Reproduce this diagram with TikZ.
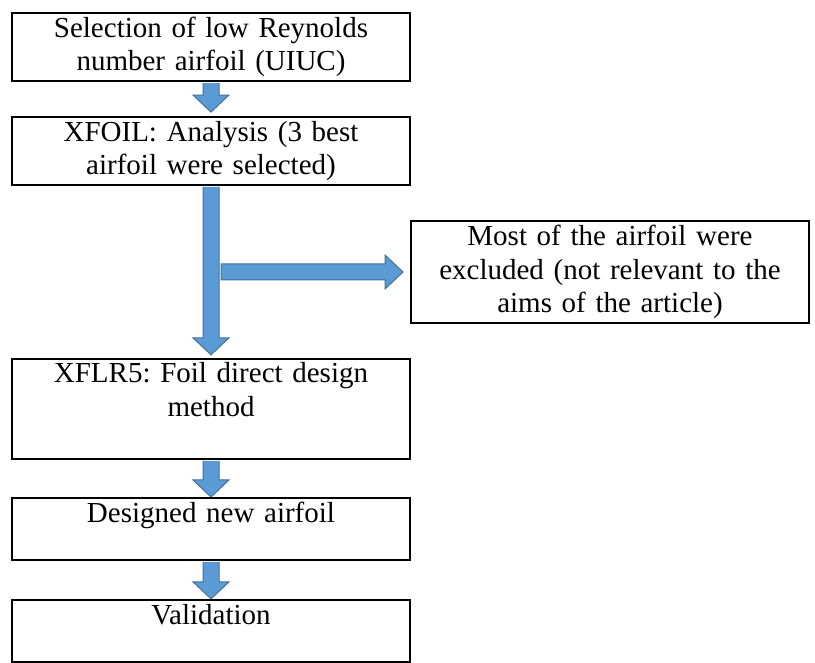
\documentclass[tikz,border=0pt]{standalone}
\usepackage{fontspec}
\setmainfont{Liberation Serif}
\frenchspacing
\usetikzlibrary{positioning, calc}
\definecolor{arrowfill}{HTML}{5B9BD5}
\definecolor{arrowedge}{HTML}{41719C}
\tikzstyle{box} = [rectangle, draw=black, line width=2pt, text width=392pt, inner xsep=3pt, inner ysep=4pt, align=center, font=\fontsize{29}{33.5}\selectfont]
\tikzstyle{blockarrow} = [fill=arrowfill, draw=arrowedge, line width=1pt]

% block arrow going down from #2 to #3, tip stops #1 above #3
\newcommand{\downblock}[3][0pt]{%
  \filldraw[blockarrow] let \p1=(#2.south), \p2=(#3.north) in
    (\x1-8pt,\y1-1pt) -- (\x1-8pt,\y2+#1+17pt) -- (\x1-18pt,\y2+#1+17pt) -- (\x1,\y2+#1)
    -- (\x1+18pt,\y2+#1+17pt) -- (\x1+8pt,\y2+#1+17pt) -- (\x1+8pt,\y1-1pt);}
% block arrow going right from coordinate #2 to #3, tip stops #1 before #3
\newcommand{\rightblock}[3][0pt]{%
  \filldraw[blockarrow] let \p1=(#2), \p2=(#3.west) in
    (\x1,\y2+8pt) -- (\x2-#1-18pt,\y2+8pt) -- (\x2-#1-18pt,\y2+17pt) -- (\x2-#1,\y2)
    -- (\x2-#1-18pt,\y2-17pt) -- (\x2-#1-18pt,\y2-8pt) -- (\x1,\y2-8pt) -- cycle;}

\begin{document}
\begin{tikzpicture}[x=1pt, y=1pt, node distance=34pt]
\useasboundingbox (0,0) rectangle (815,-663);

\node (selection) [box] at (211,-47) {Selection of low Reynolds\\number airfoil (UIUC)};
\node (analysis) [box, below=of selection] {XFOIL: Analysis (3 best\\airfoil were selected)};
\node (design) [box, below=172pt of analysis] {XFLR5: Foil direct design\\method\\[5pt]\mbox{}};
\node (newfoil) [box, below=37pt of design] {Designed new airfoil\\\mbox{}};
\node (validation) [box, below=38pt of newfoil] {Validation\\\mbox{}};
\node (excluded) [box] at (610,-272) {Most of the airfoil were\\excluded (not relevant to the\\aims of the article)};
\coordinate (branch) at ($(analysis.south |- excluded.west)+(10,0)$);

\downblock[4pt]{selection}{analysis}
\downblock[3pt]{analysis}{design}
\rightblock[7pt]{branch}{excluded}
\downblock{design}{newfoil}
\downblock{newfoil}{validation}

\end{tikzpicture}
\end{document}
